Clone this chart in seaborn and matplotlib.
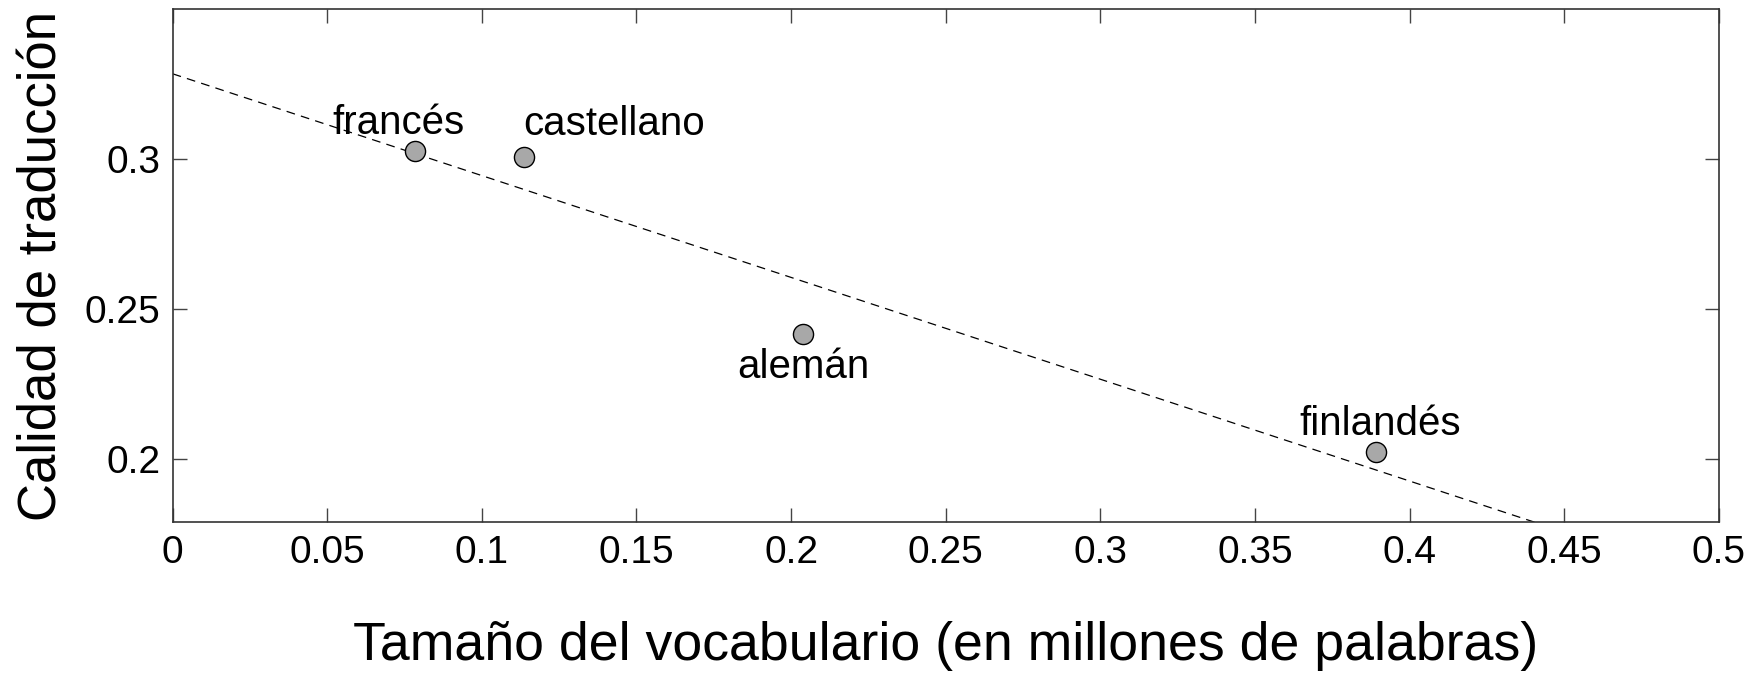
import matplotlib
matplotlib.use("Agg")
import matplotlib.pyplot as plt
import seaborn as sns
import pandas as pd

# Data
languages = ["francés", "castellano", "alemán", "finlandés"]
vocab_size = [0.0783, 0.1135, 0.204, 0.389]
quality = [0.3026, 0.3007, 0.2418, 0.2022]
x_ticks = [0, 0.05, 0.1, 0.15, 0.2, 0.25, 0.3, 0.35, 0.4, 0.45, 0.5]
x_ticklabels = ["0", "0.05", "0.1", "0.15", "0.2", "0.25", "0.3", "0.35", "0.4", "0.45", "0.5"]
y_ticks = [0.2, 0.25, 0.3]
y_ticklabels = ["0.2", "0.25", "0.3"]
x_label = "Tamaño del vocabulario (en millones de palabras)"
y_label = "Calidad de traducción"

df = pd.DataFrame({"lang": languages, "x": vocab_size, "y": quality})

sns.set_theme(style="ticks")
plt.rcParams["font.family"] = ["Liberation Sans", "DejaVu Sans"]
plt.rcParams["text.color"] = "black"
plt.rcParams["axes.labelcolor"] = "black"

fig = plt.figure(figsize=(17.58, 6.74), dpi=100)
ax = fig.add_axes([0.0982, 0.2255, 0.8795, 0.7611])
ax.set_xlim(0, 0.5)
ax.set_ylim(0.179, 0.35)

sns.regplot(data=df, x="x", y="y", ax=ax, scatter=False, ci=None, truncate=False,
            line_kws=dict(color="black", lw=0.9, ls=(0, (7, 5))))
ax.set_xlim(0, 0.5)
ax.set_ylim(0.179, 0.35)

sns.scatterplot(data=df, x="x", y="y", ax=ax, s=210, color="#a8a8a8",
                edgecolor="black", linewidth=1.0, zorder=3)

offsets = {
    "francés": (-12, 7, "center", "bottom"),
    "castellano": (0, 10, "left", "bottom"),
    "alemán": (0, -10, "center", "top"),
    "finlandés": (3, 7, "center", "bottom"),
}
for lang, xv, yv in zip(languages, vocab_size, quality):
    dx, dy, ha, va = offsets[lang]
    ax.annotate(lang, (xv, yv), xytext=(dx, dy), textcoords="offset points",
                ha=ha, va=va, fontsize=29, color="black")

ax.set_xticks(x_ticks)
ax.set_xticklabels(x_ticklabels)
ax.set_yticks(y_ticks)
ax.set_yticklabels(y_ticklabels)
ax.tick_params(direction="in", length=10, width=1, colors="#444444", labelcolor="black",
               labelsize=28, top=True, right=True, pad=9)
for sp in ax.spines.values():
    sp.set_color("#333333")
    sp.set_linewidth(1.2)

ax.set_xlabel(x_label, fontsize=38.6, labelpad=36)
ax.set_ylabel(y_label, fontsize=38, labelpad=12)

fig.savefig("out.png", dpi=100)
